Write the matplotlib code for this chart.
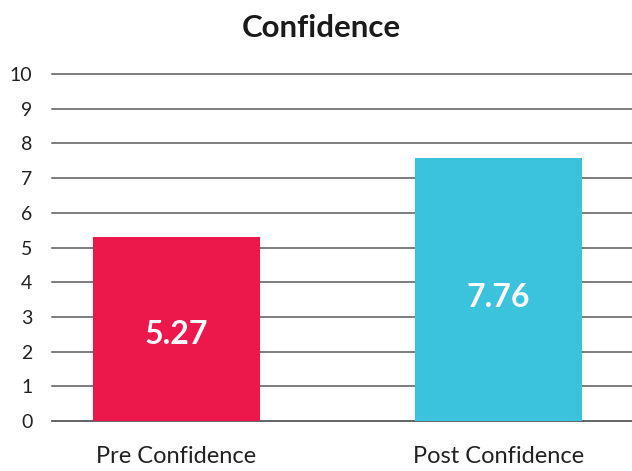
import matplotlib.pyplot as plt

# values
categories = ['Pre Confidence', 'Post Confidence']
bar_heights = [5.30, 7.58]
value_labels = ['5.27', '7.76']
bar_colors = ['#EC174B', '#3BC3DE']
y_ticks = list(range(0, 11))

plt.rcParams['font.family'] = ['Lato', 'DejaVu Sans']

fig = plt.figure(figsize=(6.32, 4.71), dpi=100)
ax = fig.add_axes([0.082, 0.106, 0.918, 0.737])

x = range(len(categories))
ax.bar(x, bar_heights, width=0.52, color=bar_colors, zorder=3)

for i, (h, lab) in enumerate(zip(bar_heights, value_labels)):
    ax.text(i, h * 0.47, lab, ha='center', va='center', color='white',
            fontsize=23, fontweight='bold', zorder=4)

ax.set_xlim(-0.387, 1.415)
ax.set_ylim(0, 10)
ax.set_yticks(y_ticks)
ax.set_xticks(list(x))
ax.set_xticklabels(categories, fontsize=17, color='#222222')
ax.tick_params(axis='y', labelsize=14, colors='#222222', length=0, pad=14)
ax.tick_params(axis='x', length=0, pad=18)

for yv in y_ticks:
    ax.axhline(yv, color='#3a3a3a' if yv == 0 else '#5a5a5a', lw=1.1,
               zorder=1, clip_on=False)

for s in ax.spines.values():
    s.set_visible(False)

fig.text(0.508, 0.94, 'Confidence', ha='center', va='center',
         fontsize=22.5, fontweight='bold', color='#1a1a1a')

fig.savefig('out.png', dpi=100)
